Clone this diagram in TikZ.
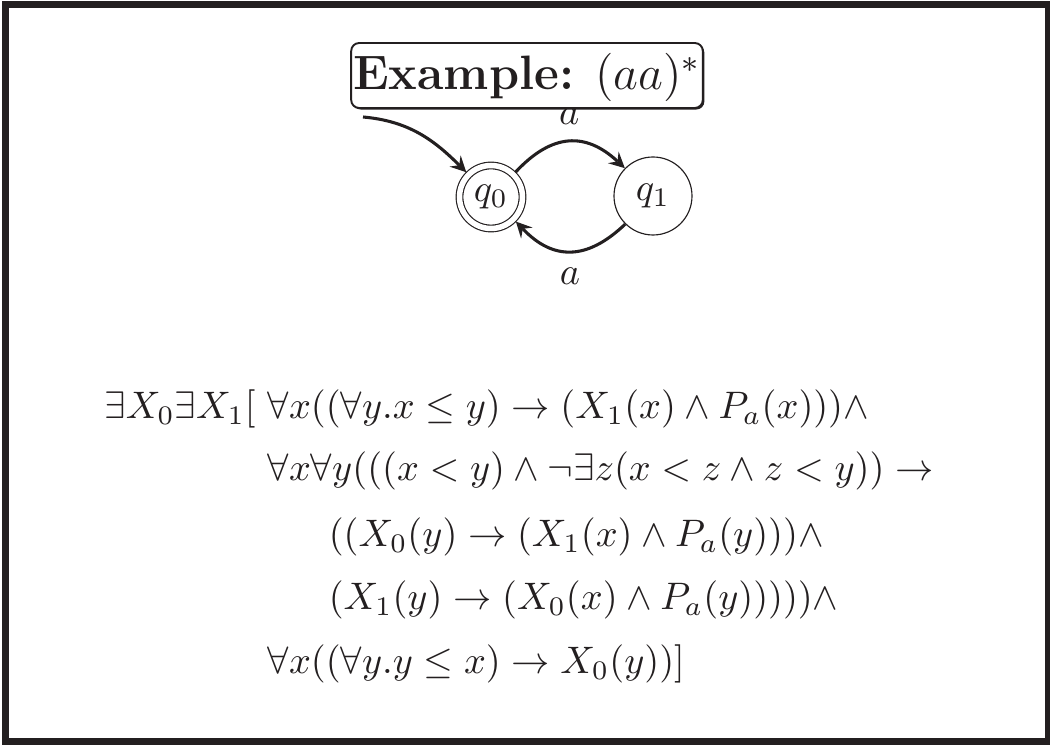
\documentclass[tikz,border=0pt]{standalone}
\usepackage{graphicx}
\usetikzlibrary{arrows,shadows,positioning}
\definecolor{ink}{RGB}{35,31,32}
\newcommand{\pxu}{0.261pt}

\begin{document}
\begin{tikzpicture}[x=\pxu,y=\pxu,color=ink,
  stateq/.style={circle,draw,line width=0.3pt,inner sep=0pt,minimum size=78*\pxu},
  accq/.style={circle,draw,line width=0.3pt,double,double distance=5.5*\pxu,
    inner sep=0pt,minimum size=63*\pxu,outer sep=3.5*\pxu},
  trans/.style={->,>=stealth,line width=0.8pt},
  fline/.style={anchor=base west,inner sep=0pt}]
\useasboundingbox (0,0) rectangle (1050,745);
\draw[line width=7*\pxu] (6,3) rectangle (1048,740);

\node[draw,line width=0.5pt,rounded corners=8*\pxu,fill=white,
  drop shadow={shadow xshift=0.4pt,shadow yshift=-0.4pt,fill=ink,opacity=1},
  inner xsep=2*\pxu,inner ysep=0pt,text height=47*\pxu,text depth=18*\pxu,
  anchor=base] (title) at (527,655)
  {\scalebox{1.05}{\large\textbf{Example:} $(aa)^*$}};

\node[accq] (q0) at (491,548) {$q_0$};
\node[stateq] (q1) at (653,549) {$q_1$};
\coordinate (init) at (363,628);
\draw[trans] (init) to[out=-5,in=135] (q0);
\draw[trans] (q0) to[bend left=45,looseness=1.25] node[above=3pt,inner sep=1pt] (a1) {$a$} (q1);
\draw[trans] (q1) to[bend left=45,looseness=1.25] node[below=3pt,inner sep=1pt] (a2) {$a$} (q0);

\node[fline] (l1) at (267,326) {$\forall x((\forall y.x\leq y)\rightarrow(X_1(x)\wedge P_a(x)))\wedge$};
\node[anchor=base east,inner sep=0pt] (pre) at (l1.base west) {$\exists X_0\exists X_1[\;$};
\node[fline] (l2) at (267,264) {$\forall x\forall y(((x<y)\wedge\neg\exists z(x<z\wedge z<y))\rightarrow$};
\node[fline] (l3) at (328,198) {$((X_0(y)\rightarrow(X_1(x)\wedge P_a(y)))\wedge$};
\node[fline] (l4) at (328,135) {$(X_1(y)\rightarrow(X_0(x)\wedge P_a(y)))))\wedge$};
\node[fline] (l5) at (267,71) {$\forall x((\forall y.y\leq x)\rightarrow X_0(y))]$};
\end{tikzpicture}
\end{document}
